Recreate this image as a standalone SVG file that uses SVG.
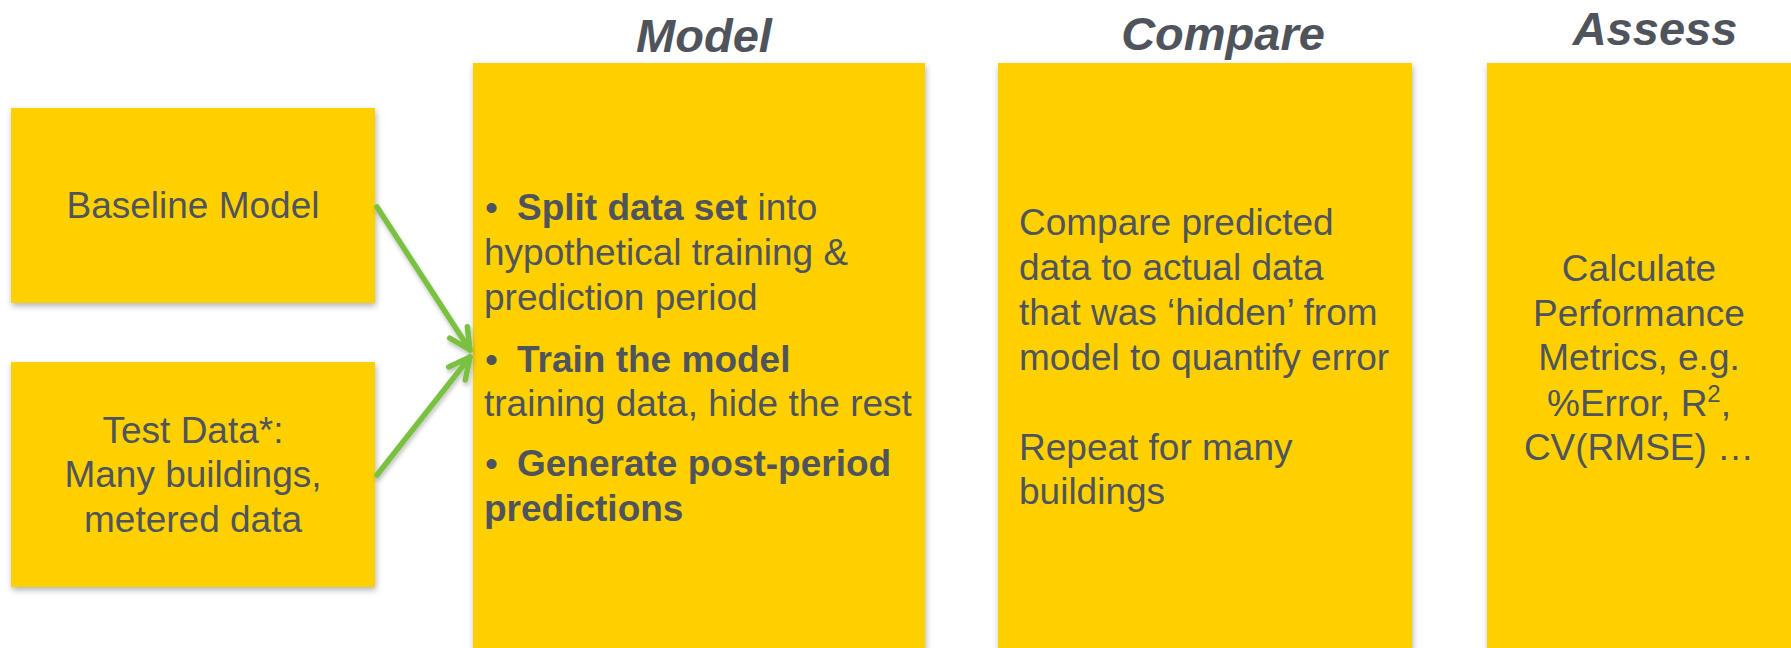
<svg xmlns="http://www.w3.org/2000/svg" width="1791" height="648" viewBox="0 0 1791 648">
<style>
.box{fill:#FFD000;filter:url(#sh);}
.t{font-family:"Liberation Sans",Arial,sans-serif;font-size:37px;fill:#4F545C;}
.b{font-weight:bold;}
.title{font-family:"Liberation Sans",Arial,sans-serif;font-size:47px;font-weight:bold;font-style:italic;fill:#4F545C;}
.c{text-anchor:middle;}
.conn{stroke:#7AC143;stroke-width:5.5;stroke-linecap:round;fill:none;marker-end:url(#ah);filter:url(#ash);}
</style>
<defs>
<filter id="sh" x="-10%" y="-10%" width="120%" height="120%">
<feDropShadow dx="1" dy="3" stdDeviation="3" flood-color="#000" flood-opacity="0.3"/>
</filter>
<filter id="ash" x="-20%" y="-20%" width="140%" height="140%">
<feDropShadow dx="1" dy="3" stdDeviation="2" flood-color="#000" flood-opacity="0.25"/>
</filter>
<marker id="ah" markerUnits="userSpaceOnUse" viewBox="-28 -15 32 30" refX="0" refY="0" markerWidth="32" markerHeight="30" orient="auto">
<path d="M-21,-10.5 L0,0 L-21,10.5" fill="none" stroke="#7AC143" stroke-width="5.5" stroke-linecap="round" stroke-linejoin="round"/>
</marker>
</defs>
<rect width="1791" height="648" fill="#FFFFFF"/>

<g id="title-model"><text class="title" x="704" y="52" text-anchor="middle">Model</text></g>
<g id="title-compare"><text class="title" x="1223" y="50" text-anchor="middle">Compare</text></g>
<g id="title-assess"><text class="title" x="1655" y="45" text-anchor="middle">Assess</text></g>

<g id="baseline-model">
<rect class="box" x="11" y="108" width="364" height="195"/>
<text class="t c" x="193" y="218">Baseline Model</text>
</g>

<g id="test-data">
<rect class="box" x="11" y="362" width="364" height="225"/>
<text class="t c" x="193" y="443">Test Data*:</text>
<text class="t c" x="193" y="487">Many buildings,</text>
<text class="t c" x="193" y="532">metered data</text>
</g>

<g id="model">
<rect class="box" x="473" y="63" width="452" height="600"/>
<text class="t" x="485" y="220">•<tspan class="b" x="517">Split data set</tspan> into</text>
<text class="t" x="484" y="265">hypothetical training &amp;</text>
<text class="t" x="484" y="310">prediction period</text>
<text class="t" x="485" y="372">•<tspan class="b" x="517">Train the model</tspan></text>
<text class="t" x="484" y="416">training data, hide the rest</text>
<text class="t" x="485" y="476">•<tspan class="b" x="517">Generate post-period</tspan></text>
<text class="t b" x="484" y="521">predictions</text>
</g>

<g id="compare">
<rect class="box" x="998" y="63" width="414" height="600"/>
<text class="t" x="1019" y="235">Compare predicted</text>
<text class="t" x="1019" y="280">data to actual data</text>
<text class="t" x="1019" y="325">that was ‘hidden’ from</text>
<text class="t" x="1019" y="370">model to quantify error</text>
<text class="t" x="1019" y="460">Repeat for many</text>
<text class="t" x="1019" y="504">buildings</text>
</g>

<g id="assess">
<rect class="box" x="1487" y="63" width="320" height="600"/>
<text class="t c" x="1639" y="281">Calculate</text>
<text class="t c" x="1639" y="326">Performance</text>
<text class="t c" x="1639" y="370">Metrics, e.g.</text>
<text class="t c" x="1639" y="416">%Error, R<tspan font-size="24" dy="-14">2</tspan><tspan dy="14">,</tspan></text>
<text class="t c" x="1639" y="460">CV(RMSE) …</text>
</g>

<g id="connectors">
<line class="conn" x1="377" y1="207" x2="470" y2="350"/>
<line class="conn" x1="377" y1="475" x2="470" y2="357"/>
<line class="conn" x1="927" y1="357" x2="995" y2="357"/>
<line class="conn" x1="1414" y1="357" x2="1484" y2="357"/>
</g>
</svg>
